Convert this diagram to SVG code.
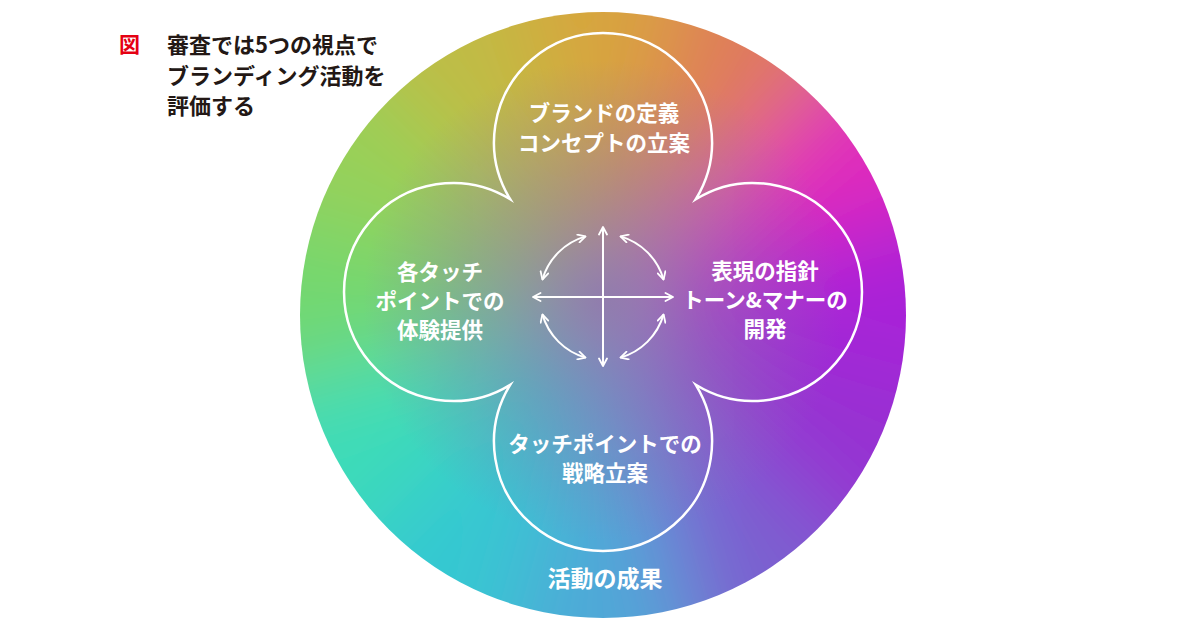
<svg xmlns="http://www.w3.org/2000/svg" width="1200" height="630" viewBox="0 0 1200 630">
  <defs>
    <style>
      .t { font-family: "Noto Sans CJK JP", "Noto Sans CJK SC", sans-serif; }
      .title { font-size: 22px; font-weight: 700; fill: #231815; }
      .lbl { font-size: 21.5px; font-weight: 700; fill: #ffffff; text-anchor: middle; }
      .outline { fill: none; stroke: #ffffff; stroke-width: 2.5; stroke-miterlimit: 10; }
      .arw { fill: none; stroke: #ffffff; stroke-width: 2; marker-start: url(#ah); marker-end: url(#ah); }
    </style>
    <clipPath id="bigClip">
      <circle cx="603" cy="315" r="303"/>
    </clipPath>
    <filter id="blur" filterUnits="userSpaceOnUse" x="-300" y="-400" width="1800" height="1500">
      <feGaussianBlur stdDeviation="45"/>
    </filter>
    <radialGradient id="centerWash" gradientUnits="userSpaceOnUse" cx="603" cy="300" r="240">
      <stop offset="0" stop-color="#8e76ae" stop-opacity="0.85"/>
      <stop offset="0.55" stop-color="#8e76ae" stop-opacity="0.4"/>
      <stop offset="1" stop-color="#8e76ae" stop-opacity="0"/>
    </radialGradient>
    <marker id="ah" viewBox="0 0 10 10" refX="9" refY="5" markerWidth="10" markerHeight="10" orient="auto-start-reverse" markerUnits="userSpaceOnUse">
      <path d="M1.5,1 L9,5 L1.5,9" fill="none" stroke="#ffffff" stroke-width="1.8" stroke-linecap="round" stroke-linejoin="round"/>
    </marker>
  </defs>

  <rect width="1200" height="630" fill="#ffffff"/>

  <g id="title">
    <text class="t title" x="119" y="52" style="fill:#e50012;font-size:21px">図</text>
    <text class="t title" x="167" y="53">審査では5つの視点で</text>
    <text class="t title" x="167" y="84">ブランディング活動を</text>
    <text class="t title" x="167" y="114">評価する</text>
  </g>

  <g id="node-results">
    <g clip-path="url(#bigClip)">
      <g filter="url(#blur)">
        <path d="M603,300 L1182.6,144.7 L1182.6,455.3Z" fill="#a822d8"/>
        <path d="M603,300 L1182.6,455.3 L1027.3,724.3Z" fill="#9632d2"/>
        <path d="M603,300 L1027.3,724.3 L758.3,879.6Z" fill="#7a60d0"/>
        <path d="M603,300 L758.3,879.6 L447.7,879.6Z" fill="#50a8d8"/>
        <path d="M603,300 L447.7,879.6 L178.7,724.3Z" fill="#34c8d2"/>
        <path d="M603,300 L178.7,724.3 L23.4,455.3Z" fill="#3cdcb8"/>
        <path d="M603,300 L23.4,455.3 L23.4,144.7Z" fill="#72d870"/>
        <path d="M603,300 L23.4,144.7 L178.7,-124.3Z" fill="#98d058"/>
        <path d="M603,300 L178.7,-124.3 L447.7,-279.6Z" fill="#c0bc44"/>
        <path d="M603,300 L447.7,-279.6 L758.3,-279.6Z" fill="#d8a43e"/>
        <path d="M603,300 L758.3,-279.6 L1027.3,-124.3Z" fill="#e07a5a"/>
        <path d="M603,300 L1027.3,-124.3 L1182.6,144.7Z" fill="#e02cbc"/>
      </g>
      <circle cx="603" cy="300" r="240" fill="url(#centerWash)"/>
    </g>
    <text class="t lbl" x="605" y="587" style="font-size:23px">活動の成果</text>
  </g>

  <g id="clover-outline">
    <path class="outline" d="M510.2,199.2 A109,109 0 1 1 695.8,199.2 A109,109 0 1 1 695.8,384.8 A109,109 0 1 1 510.2,384.8 A109,109 0 1 1 510.2,199.2 Z"/>
  </g>

  <g id="node-brand">
    <text class="t lbl" x="604" y="121">ブランドの定義</text>
    <text class="t lbl" x="604" y="151">コンセプトの立案</text>
  </g>

  <g id="node-expression">
    <text class="t lbl" x="765" y="279">表現の指針</text>
    <text class="t lbl" x="765" y="308">トーン&amp;マナーの</text>
    <text class="t lbl" x="765" y="337">開発</text>
  </g>

  <g id="node-strategy">
    <text class="t lbl" x="605" y="452">タッチポイントでの</text>
    <text class="t lbl" x="605" y="481">戦略立案</text>
  </g>

  <g id="node-experience">
    <text class="t lbl" x="440" y="280">各タッチ</text>
    <text class="t lbl" x="440" y="309">ポイントでの</text>
    <text class="t lbl" x="440" y="338">体験提供</text>
  </g>

  <g id="connectors">
    <path class="arw" d="M603,366 L603,227"/>
    <path class="arw" d="M533,297 L673,297"/>
    <path class="arw" d="M542.4,279.6 A63,63 0 0 1 585.6,236.4"/>
    <path class="arw" d="M620.4,236.4 A63,63 0 0 1 663.6,279.6"/>
    <path class="arw" d="M663.6,314.4 A63,63 0 0 1 620.4,357.6"/>
    <path class="arw" d="M585.6,357.6 A63,63 0 0 1 542.4,314.4"/>
  </g>
</svg>
